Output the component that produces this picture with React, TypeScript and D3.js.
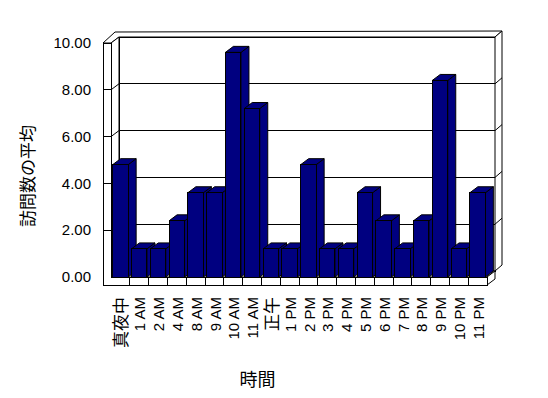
import React from 'react';
import * as d3 from 'd3';

const categories = ['真夜中', '1 AM', '2 AM', '4 AM', '8 AM', '9 AM', '10 AM', '11 AM', '正午', '1 PM',
  '2 PM', '3 PM', '4 PM', '5 PM', '6 PM', '7 PM', '8 PM', '9 PM', '10 PM', '11 PM'];
const visits = [4.8, 1.2, 1.2, 2.4, 3.6, 3.6, 9.6, 7.2, 1.2, 1.2, 4.8, 1.2, 1.2, 3.6, 2.4, 1.2, 2.4, 8.4, 1.2, 3.6];
const yTicks = [0, 2, 4, 6, 8, 10];
const yTitle = '訪問数の平均';
const xTitle = '時間';

const App = () => {
  const width = 548;
  const height = 398;
  // front plane of the plot box
  const left = 111;
  const right = 487;
  const wallX = 103;
  const floorBottom = 285;
  // depth offset for the 3d look
  const dx = 8;
  const dy = -6;

  const x = d3.scaleBand<string>().domain(categories).range([left, right]).padding(0);
  const y = d3.scaleLinear().domain([0, 10]).range([277, 43]);
  const fmt = d3.format('.2f');
  const barW = 15.5;
  const y0 = y(0);
  const yTop = y(10);

  const pts = (p: number[][]) => p.map((d) => d.join(',')).join(' ');
  const line = { stroke: '#000', strokeWidth: 1, fill: 'none' };
  const face = { stroke: '#000', strokeWidth: 1, fill: '#fff' };
  const numFont = "'Liberation Sans', Arial, sans-serif";
  const cjkFont = "'Noto Sans CJK JP', sans-serif";
  const isCjk = (s: string) => /[^\x00-\x7f]/.test(s);

  return (
    <svg width={width} height={height} style={{ position: 'absolute', left: 0, top: 0, background: '#fff' }}>
      {/* back wall */}
      <rect x={left + dx} y={yTop + dy} width={right - left} height={y0 - yTop} {...face} shapeRendering="crispEdges" />
      {/* top of walls */}
      <polygon
        points={pts([[wallX, yTop], [wallX + 12, yTop + 2 * dy + 1], [right + 2 * dx - 1, yTop + 2 * dy], [right + dx, yTop + dy], [left + dx, yTop + dy], [left, yTop]])}
        {...face}
      />
      {/* right edge of back wall */}
      <polygon
        points={pts([[right + dx, yTop + dy], [right + 2 * dx - 1, yTop + 2 * dy], [right + 2 * dx - 1, y0 + 2 * dy], [right + dx, y0 + dy]])}
        {...face}
      />
      {/* left wall inner face */}
      <polygon points={pts([[left, yTop], [left + dx, yTop + dy], [left + dx, y0 + dy], [left, y0]])} {...face} />
      {/* floor top and right face */}
      <polygon points={pts([[left, y0], [right, y0], [right + dx, y0 + dy], [left + dx, y0 + dy]])} {...face} />
      <polygon points={pts([[right, y0], [right + dx, y0 + dy], [right + dx, floorBottom + dy], [right, floorBottom]])} {...face} />
      {/* left wall front and floor front */}
      <polygon
        points={pts([[wallX, yTop], [left, yTop], [left, y0], [right, y0], [right, floorBottom], [wallX, floorBottom]])}
        {...face}
        shapeRendering="crispEdges"
      />
      {/* gridlines */}
      {yTicks.filter((t) => t > 0 && t < 10).map((t) => (
        <g key={t}>
          <line x1={wallX} x2={left} y1={y(t)} y2={y(t)} {...line} shapeRendering="crispEdges" />
          <line x1={left} x2={left + dx} y1={y(t)} y2={y(t) + dy} {...line} />
          <line x1={left + dx} x2={right + dx} y1={y(t) + dy} y2={y(t) + dy} {...line} shapeRendering="crispEdges" />
          <line x1={right + dx} x2={right + 2 * dx - 1} y1={y(t) + dy} y2={y(t) + 2 * dy} {...line} />
        </g>
      ))}
      {/* floor dividers */}
      {categories.slice(1).map((c) => (
        <line key={c} x1={x(c)} x2={x(c)} y1={y0} y2={floorBottom} {...line} shapeRendering="crispEdges" />
      ))}
      {/* bars */}
      {visits.map((v, i) => {
        const cx = (x(categories[i]) as number) + x.bandwidth() / 2;
        const x0 = cx - barW / 2;
        const x1 = cx + barW / 2;
        const yt = y(v);
        const bar = { fill: '#000080', stroke: '#000', strokeWidth: 1 };
        return (
          <g key={i}>
            <polygon points={pts([[x1, yt], [x1 + dx, yt + dy], [x1 + dx, y0 + dy], [x1, y0]])} {...bar} />
            <polygon points={pts([[x0, yt], [x1, yt], [x1 + dx, yt + dy], [x0 + dx, yt + dy]])} {...bar} />
            <rect x={x0} y={yt} width={barW} height={y0 - yt} {...bar} shapeRendering="crispEdges" />
          </g>
        );
      })}
      {/* y tick labels */}
      {yTicks.map((t) => (
        <text key={t} x={91} y={y(t)} dy="0.35em" textAnchor="end" fontFamily={numFont} fontSize={15}>
          {fmt(t)}
        </text>
      ))}
      {/* x tick labels */}
      {categories.map((c) => {
        const cx = (x(c) as number) + x.bandwidth() / 2 + 1;
        return (
          <text
            key={c}
            transform={`translate(${cx},297) rotate(-90)`}
            dy="0.35em"
            textAnchor="end"
            fontFamily={isCjk(c) ? cjkFont : numFont}
            fontSize={isCjk(c) ? 17 : 15}
          >
            {c}
          </text>
        );
      })}
      <text transform="translate(28,176) rotate(-90)" dy="0.35em" textAnchor="middle" fontFamily={cjkFont} fontSize={17}>
        {yTitle}
      </text>
      <text x={257.5} y={386} textAnchor="middle" fontFamily={cjkFont} fontSize={18}>
        {xTitle}
      </text>
    </svg>
  );
};

export default App;
